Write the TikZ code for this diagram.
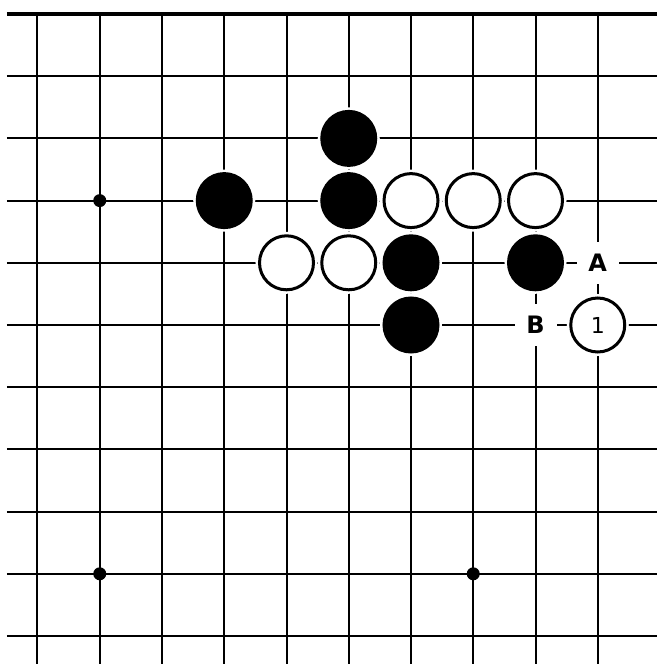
\documentclass[tikz,border=0pt]{standalone}
\usepackage{fontspec}
\setsansfont{DejaVu Sans}
\usepackage{tikz}
\usetikzlibrary{positioning}
\tikzstyle{gridline} = [line width=2pt, black]
\tikzstyle{edgeline} = [line width=3.5pt, black]
\tikzstyle{blackstone} = [circle, minimum size=54pt, inner sep=0pt, draw=black, line width=3pt, fill=black, preaction={draw=white, line width=8pt}]
\tikzstyle{whitestone} = [circle, minimum size=54pt, inner sep=0pt, draw=black, line width=3pt, fill=white, preaction={draw=white, line width=8pt}, font=\sffamily\fontsize{22}{26}\selectfont]
\tikzstyle{marklabel} = [rectangle, minimum size=42pt, inner sep=0pt, fill=white, font=\sffamily\bfseries\fontsize{24}{28}\selectfont]
\tikzstyle{hoshi} = [circle, minimum size=13pt, inner sep=0pt, fill=black]

\begin{document}
\begin{tikzpicture}[x=62.25pt, y=-62.2pt]
  \useasboundingbox (-0.6024,-0.2251) rectangle (9.9518,10.4502);
  \fill[white] (-0.6024,-0.2251) rectangle (9.9518,10.4502);

  % board lines
  \foreach \r in {1,...,10}
    \draw[gridline] (-0.49,\r) -- (9.9518,\r);
  \foreach \c in {0,...,9}
    \draw[gridline] (\c,0) -- (\c,10.4502);
  \draw[edgeline] (-0.49,0) -- (9.9518,0);

  \node[hoshi] (s1) at (1,3) {};
  \node[hoshi] (s2) at (1,9) {};
  \node[hoshi] (s3) at (7,9) {};

  % black stones
  \node[blackstone] (b1) at (5,2) {};
  \node[blackstone] (b2) at (3,3) {};
  \node[blackstone] (b3) at (5,3) {};
  \node[blackstone] (b4) at (6,4) {};
  \node[blackstone] (b5) at (8,4) {};
  \node[blackstone] (b6) at (6,5) {};

  % white stones
  \node[whitestone] (w1) at (6,3) {};
  \node[whitestone] (w2) at (7,3) {};
  \node[whitestone] (w3) at (8,3) {};
  \node[whitestone] (w4) at (4,4) {};
  \node[whitestone] (w5) at (5,4) {};
  \node[whitestone] (w6) at (9,5) {1};

  \node[marklabel] (la) at (9,4) {A};
  \node[marklabel] (lb) at (8,5) {B};
\end{tikzpicture}
\end{document}
